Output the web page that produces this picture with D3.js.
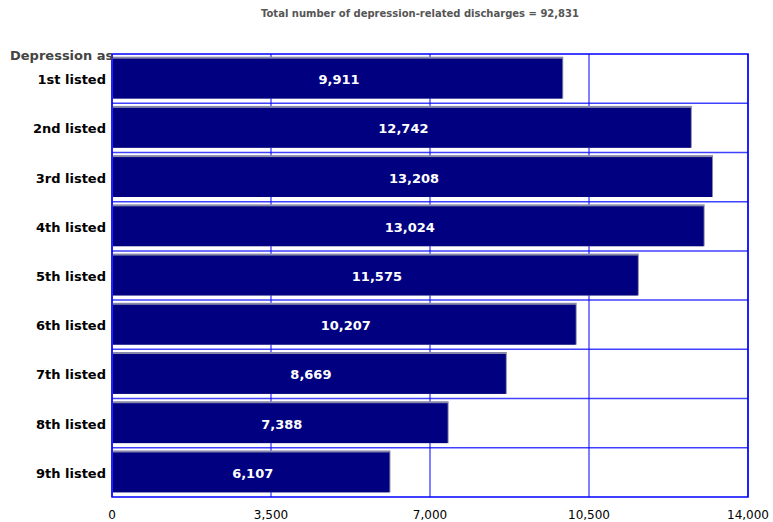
<!DOCTYPE html>
<html>
<head>
<meta charset="utf-8">
<script src="https://cdn.jsdelivr.net/npm/d3@7"></script>
<style>
  body { margin: 0; background: #fff; }
  svg { display: block; font-family: "DejaVu Sans", Verdana, sans-serif; }
</style>
</head>
<body>
<svg id="chart" width="773" height="522"></svg>
<script>
/* ---------------------------------------------------
   Data
--------------------------------------------------- */

const categories = ["1st listed", "2nd listed", "3rd listed", "4th listed", "5th listed",
                    "6th listed", "7th listed", "8th listed", "9th listed"];
const discharges = [9911, 12742, 13208, 13024, 11575, 10207, 8669, 7388, 6107];
const ticks = [0, 3500, 7000, 10500, 14000];
const title = "Total number of depression-related discharges = 92,831";
const axisTitle = "Depression as";

/* ---------------------------------------------------
   Setup
--------------------------------------------------- */

const svg = d3.select("#chart");
const plotL = 112, plotR = 748, plotT = 54, plotB = 497;

const x = d3.scaleLinear().domain([0, 14000]).range([plotL, plotR]);
const y = d3.scaleBand().domain(categories).range([plotT, plotB]).paddingInner(0.19).paddingOuter(0.095);
const fmt = d3.format(",");

svg.append("text")
  .attr("x", 420).attr("y", 17)
  .attr("text-anchor", "middle")
  .attr("font-size", 10).attr("font-weight", "bold")
  .attr("fill", "#555")
  .text(title);

// vertical grid
svg.append("g")
  .selectAll("line")
  .data(ticks)
  .join("line")
  .attr("x1", d => x(d)).attr("x2", d => x(d))
  .attr("y1", plotT).attr("y2", plotB)
  .attr("stroke", "#0000ff").attr("stroke-width", 1);

// horizontal grid at band boundaries
const step = y.step();
svg.append("g")
  .selectAll("line")
  .data(categories.slice(1))
  .join("line")
  .attr("x1", plotL).attr("x2", plotR)
  .attr("y1", (d, i) => plotT + step * (i + 1))
  .attr("y2", (d, i) => plotT + step * (i + 1))
  .attr("stroke", "#0000ff").attr("stroke-opacity", 0.75).attr("stroke-width", 1.5);

// bars (grey edge on top/right, navy body)
const bars = svg.append("g");
bars.selectAll("rect.shade")
  .data(discharges)
  .join("rect")
  .attr("class", "shade")
  .attr("x", x(0) + 1)
  .attr("y", (d, i) => y(categories[i]) - 2)
  .attr("width", d => x(d) - x(0))
  .attr("height", y.bandwidth() + 2)
  .attr("fill", "#8888aa");

bars.selectAll("rect.bar")
  .data(discharges)
  .join("rect")
  .attr("class", "bar")
  .attr("x", x(0) + 1)
  .attr("y", (d, i) => y(categories[i]))
  .attr("width", d => x(d) - x(0) - 1)
  .attr("height", y.bandwidth())
  .attr("fill", "#000080");

bars.selectAll("text")
  .data(discharges)
  .join("text")
  .attr("x", d => (x(0) + x(d)) / 2 + 2)
  .attr("y", (d, i) => y(categories[i]) + y.bandwidth() / 2 + 1)
  .attr("dy", "0.35em")
  .attr("text-anchor", "middle")
  .attr("font-size", 13).attr("font-weight", "bold")
  .attr("fill", "#fff")
  .text(d => fmt(d));

// frame
svg.append("rect")
  .attr("x", plotL).attr("y", plotT)
  .attr("width", plotR - plotL).attr("height", plotB - plotT)
  .attr("fill", "none")
  .attr("stroke", "#0000ff").attr("stroke-width", 1.5);

// category labels
svg.append("g")
  .selectAll("text")
  .data(categories)
  .join("text")
  .attr("x", 106)
  .attr("y", d => y(d) + y.bandwidth() / 2 + 1)
  .attr("dy", "0.35em")
  .attr("text-anchor", "end")
  .attr("font-size", 13).attr("font-weight", "bold")
  .attr("fill", "#000")
  .text(d => d);

svg.append("text")
  .attr("x", 10).attr("y", 60)
  .attr("font-size", 13).attr("font-weight", "bold")
  .attr("fill", "#444")
  .text(axisTitle);

// x tick labels
svg.append("g")
  .selectAll("text")
  .data(ticks)
  .join("text")
  .attr("x", d => x(d))
  .attr("y", 519)
  .attr("text-anchor", "middle")
  .attr("font-size", 12)
  .attr("fill", "#000")
  .text(d => fmt(d));
</script>
</body>
</html>
